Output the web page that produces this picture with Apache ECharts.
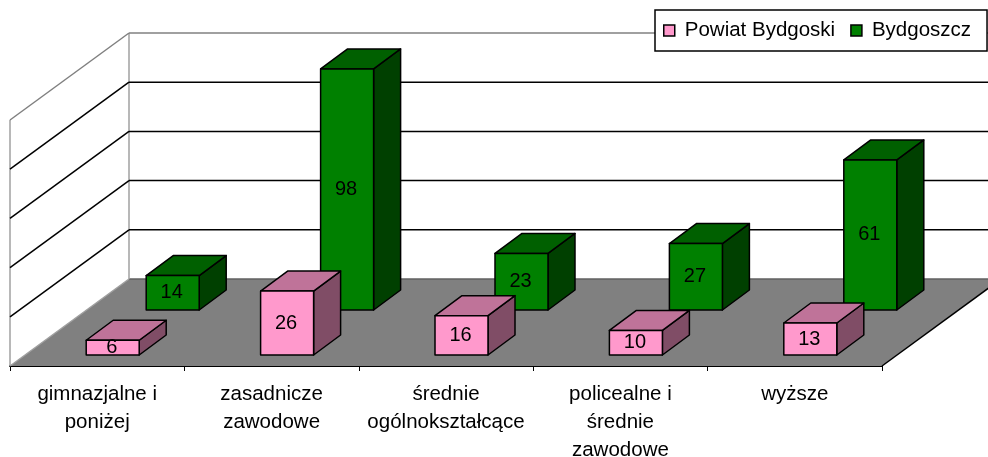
<!DOCTYPE html>
<html><head><meta charset="utf-8">
<style>html,body{margin:0;padding:0;background:#fff}#c{width:988px;height:457px}</style>
<script src="https://cdn.jsdelivr.net/npm/echarts@6/dist/echarts.min.js"></script>
</head><body><div id="c"></div>
<script>
const categories = ['gimnazjalne i\nponiżej','zasadnicze\nzawodowe','średnie\nogólnokształcące','policealne i\nśrednie\nzawodowe','wyższe'];
const powiat = [6,26,16,10,13];
const bydgoszcz = [14,98,23,27,61];
const wallTicks = [0,20,40,60,80,100];

const seriesNames = ['Powiat Bydgoski','Bydgoszcz'];
const FONT = 'Liberation Sans';
const DEPTH = [119,-87];
const BAR_W = 53, BAR_D = [27,-20];
const ROW_OFF = {front:[15.5,-11], back:[75.5,-56]};

const pink = {front:'#FF99CC', top:'#BF7399', side:'#804D66'};
const green = {front:'#008000', top:'#006000', side:'#004000'};

function wallItem(params, api){
  const v = api.value(0);
  const zero = api.coord([0,0]);
  const band = api.size([1,0])[0];
  const x0 = zero[0]-band/2;
  const y = api.coord([0,v])[1];
  const bx = x0+DEPTH[0], by = y+DEPTH[1];
  const kids = [];
  const isTop = v === wallTicks[wallTicks.length-1];
  const col = isTop ? '#808080' : '#000';
  if (v === 0){
    const topY = api.coord([0,wallTicks[wallTicks.length-1]])[1];
    const xEnd = x0+band*categories.length;
    kids.push({type:'polygon',shape:{points:[[x0,y],[xEnd,y],[xEnd+DEPTH[0],y+DEPTH[1]],[bx,by]]},style:{fill:'#808080',stroke:null}});
    kids.push({type:'line',shape:{x1:bx,y1:by,x2:1000,y2:by},style:{stroke:'#606060',lineWidth:1.5}});
    kids.push({type:'line',shape:{x1:x0,y1:y,x2:bx,y2:by},style:{stroke:'#a0a0a0',lineWidth:1.5}});
    kids.push({type:'line',shape:{x1:xEnd,y1:y,x2:xEnd+DEPTH[0],y2:by},style:{stroke:'#000',lineWidth:1.5}});
    kids.push({type:'line',shape:{x1:x0,y1:y,x2:x0,y2:topY},style:{stroke:'#a0a0a0',lineWidth:1.5}});
    kids.push({type:'line',shape:{x1:bx,y1:by,x2:bx,y2:topY+DEPTH[1]},style:{stroke:'#a0a0a0',lineWidth:1.5}});
  } else {
    kids.push({type:'line',shape:{x1:x0,y1:y,x2:bx,y2:by},style:{stroke:col,lineWidth:1.5}});
    kids.push({type:'line',shape:{x1:bx,y1:by,x2:1000,y2:by},style:{stroke:col,lineWidth:1.5}});
  }
  return {type:'group',children:kids};
}

function barItem(pal, off){
  return function(params, api){
    const cat = api.value(0), val = api.value(1);
    const base = api.coord([cat,0]), top = api.coord([cat,val]);
    const xl = base[0]+off[0]-BAR_W/2, xr = xl+BAR_W;
    const yb = base[1]+off[1], yt = top[1]+off[1];
    const dx = BAR_D[0], dy = BAR_D[1];
    const edge = {stroke:'#000',lineWidth:1.5,lineJoin:'round'};
    return {type:'group',children:[
      {type:'polygon',shape:{points:[[xr,yt],[xr+dx,yt+dy],[xr+dx,yb+dy],[xr,yb]]},style:{fill:pal.side,...edge}},
      {type:'polygon',shape:{points:[[xl,yt],[xl+dx,yt+dy],[xr+dx,yt+dy],[xr,yt]]},style:{fill:pal.top,...edge}},
      {type:'rect',shape:{x:xl,y:yt,width:BAR_W,height:yb-yt},style:{fill:pal.front,...edge}},
      {type:'text',x:(xl+xr)/2-1,y:(yt+yb)/2,style:{text:String(val),fill:'#000',font:'20px "'+FONT+'"',align:'center',verticalAlign:'middle'}}
    ]};
  };
}

const chart = echarts.init(document.getElementById('c'),null,{renderer:'canvas'});
chart.setOption({
  animation:false,
  backgroundColor:'#fff',
  grid:{left:10,width:872,top:120,height:246,outerBoundsMode:'none'},
  legend:{
    left:655,top:10,width:400,orient:'horizontal',
    backgroundColor:'#fff',borderColor:'#000',borderWidth:1.5,borderRadius:0,
    padding:[10,16,10,8],itemGap:15,itemWidth:11,itemHeight:11,
    textStyle:{fontFamily:FONT,fontSize:20.5,color:'#000',padding:[0,0,0,5]},
    data:[
      {name:seriesNames[0],icon:'rect',itemStyle:{color:pink.front,borderColor:'#000',borderWidth:1.5}},
      {name:seriesNames[1],icon:'rect',itemStyle:{color:green.front,borderColor:'#000',borderWidth:1.5}}
    ]
  },
  xAxis:{type:'category',data:categories,boundaryGap:true,
    axisLine:{show:true,lineStyle:{color:'#000',width:2}},
    axisTick:{show:true,length:5,lineStyle:{color:'#000',width:1}},
    axisLabel:{interval:0,fontFamily:FONT,fontSize:20.5,color:'#000',lineHeight:28,margin:14}},
  yAxis:{type:'value',min:0,max:100,interval:20,show:false,splitLine:{show:false}},
  series:[
    {type:'custom',name:'wall',silent:true,z:1,coordinateSystem:'cartesian2d',data:wallTicks.map(v=>[v]),encode:{x:-1,y:0},renderItem:wallItem},
    {type:'custom',name:seriesNames[1],z:2,data:bydgoszcz.map((v,i)=>[i,v]),encode:{x:0,y:1},renderItem:barItem(green,ROW_OFF.back)},
    {type:'custom',name:seriesNames[0],z:3,data:powiat.map((v,i)=>[i,v]),encode:{x:0,y:1},renderItem:barItem(pink,ROW_OFF.front)}
  ]
});
</script></body></html>
